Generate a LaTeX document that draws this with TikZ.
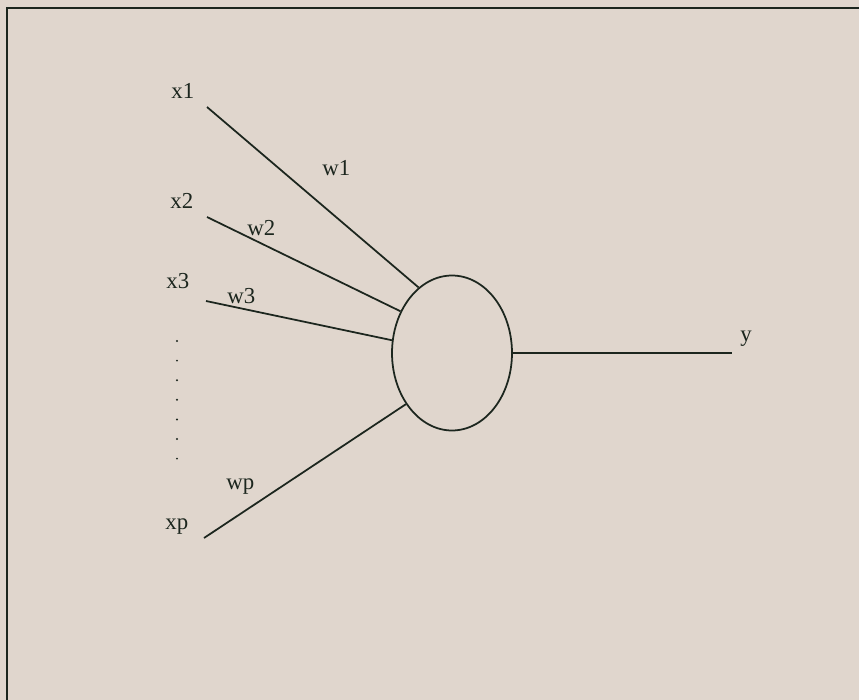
\documentclass[tikz,border=0pt]{standalone}
\usepackage{fontspec}
\setmainfont{Liberation Serif}
\usetikzlibrary{shapes.geometric}
\definecolor{paper}{RGB}{224, 214, 205}
\definecolor{ink}{RGB}{28, 38, 30}

\begin{document}
\begin{tikzpicture}[x=0.02cm, y=-0.02cm,
        wire/.style={draw=ink, line width=1pt},
        lbl/.style={anchor=base west, inner sep=0pt, text=ink, font=\fontsize{13}{15}\selectfont}]
        \fill[paper] (0,0) rectangle (859,700);
        \useasboundingbox (0,0) rectangle (859,700);
        \draw[ink, line width=1.3pt] (7,700) -- (7,8) -- (859,8);

        % neuron
        \node[ellipse, wire, minimum width=2.4cm, minimum height=3.1cm, inner sep=0pt] (neuron) at (452,353) {};

        % inputs
        \node[lbl] (x1) at (171,98) {x1};
        \node[lbl] (x2) at (170,208) {x2};
        \node[lbl] (x3) at (166,288) {x3};
        \node[lbl] (xp) at (165,529) {xp};

        \coordinate (in1) at (207,107);
        \coordinate (in2) at (207,217);
        \coordinate (in3) at (206,301);
        \coordinate (inp) at (204,538);

        \draw[wire] (in1) -- (neuron.117.6);
        \draw[wire] (in2) -- (neuron.141.7);
        \draw[wire] (in3) -- (neuron.168.5);
        \draw[wire] (inp) -- (neuron.228.5);

        \foreach \k in {0,...,6} {
            \fill[ink] (177, 341 + 19.6*\k) circle (1.1);
        }

        % weights
        \node[lbl] (w1) at (322,175) {w1};
        \node[lbl] (w2) at (247,235) {w2};
        \node[lbl] (w3) at (227,303) {w3};
        \node[lbl] (wp) at (226,489) {wp};

        % output
        \coordinate (out) at (732,353);
        \draw[wire] (neuron.east) -- (out);
        \node[lbl] (y) at (740,341) {y};

    \end{tikzpicture}
\end{document}
